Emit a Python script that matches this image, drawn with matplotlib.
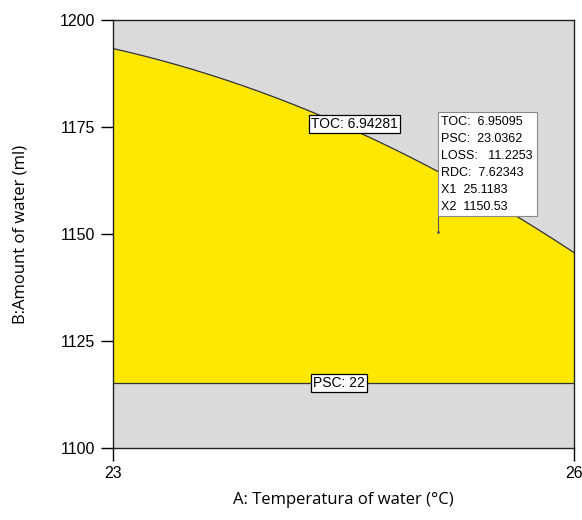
import numpy as np
import matplotlib.pyplot as plt

# TOC contour (temperature, water amount)
toc_temp = [23.0, 23.63, 24.28, 24.59, 25.11, 25.62, 26.0]
toc_water = [1193.5, 1187.1, 1178.5, 1173.6, 1165.4, 1154.4, 1145.4]
psc_water = 1115.2

# flagged optimum point
flag_x1 = 25.1183
flag_x2 = 1150.53
flag_lines = ["TOC:  6.95095", "PSC:  23.0362", "LOSS:   11.2253",
              "RDC:  7.62343", "X1  25.1183", "X2  1150.53"]

x_ticks = [23, 26]
y_ticks = [1100, 1125, 1150, 1175, 1200]

fig = plt.figure(figsize=(5.82, 5.2), dpi=100)
ax = fig.add_axes([0.194, 0.1385, 0.792, 0.823])

ax.set_facecolor("#dadada")
# smooth curve through read points
t = np.linspace(23, 26, 200)
coef = np.polyfit(toc_temp, toc_water, 2)
curve = np.polyval(coef, t)
ax.fill_between(t, psc_water, curve, color="#ffe800", lw=0)
ax.plot(t, curve, color="#333333", lw=0.9)
ax.axhline(psc_water, color="#333333", lw=0.9)

box = dict(boxstyle="square,pad=0.15", fc="white", ec="black", lw=0.9)
ax.text(24.57, 1175.7, "TOC: 6.94281", ha="center", va="center",
        fontsize=10, family="Liberation Sans", bbox=box)
ax.text(24.47, psc_water, "PSC: 22", ha="center", va="center",
        fontsize=10, family="Liberation Sans", bbox=box)

ax.plot([flag_x1, flag_x1], [flag_x2, 1155.3], color="#555555", lw=0.8)
ax.plot(flag_x1, flag_x2, marker=".", ms=2, color="#555555")
ax.text(flag_x1 + 0.02, 1177.6, "\n".join(flag_lines), ha="left", va="top",
        fontsize=9, family="Liberation Sans", linespacing=1.55,
        bbox=dict(boxstyle="square,pad=0.3", fc="white", ec="#888888", lw=0.8))

ax.set_xlim(23, 26)
ax.set_ylim(1100, 1200)
ax.set_xticks(x_ticks)
ax.set_yticks(y_ticks)
ax.tick_params(direction="out", length=9, width=1, labelsize=11.5, pad=4)
for lab in ax.get_xticklabels() + ax.get_yticklabels():
    lab.set_family("Liberation Sans")
for s in ax.spines.values():
    s.set_color("#222222")
    s.set_linewidth(1)

ax.set_xlabel("A: Temperatura of water (°C)", fontsize=12, family="Open Sans", labelpad=8)
ax.set_ylabel("B:Amount of water (ml)", fontsize=12, family="Open Sans", labelpad=22)

fig.savefig("out.png", dpi=100)
